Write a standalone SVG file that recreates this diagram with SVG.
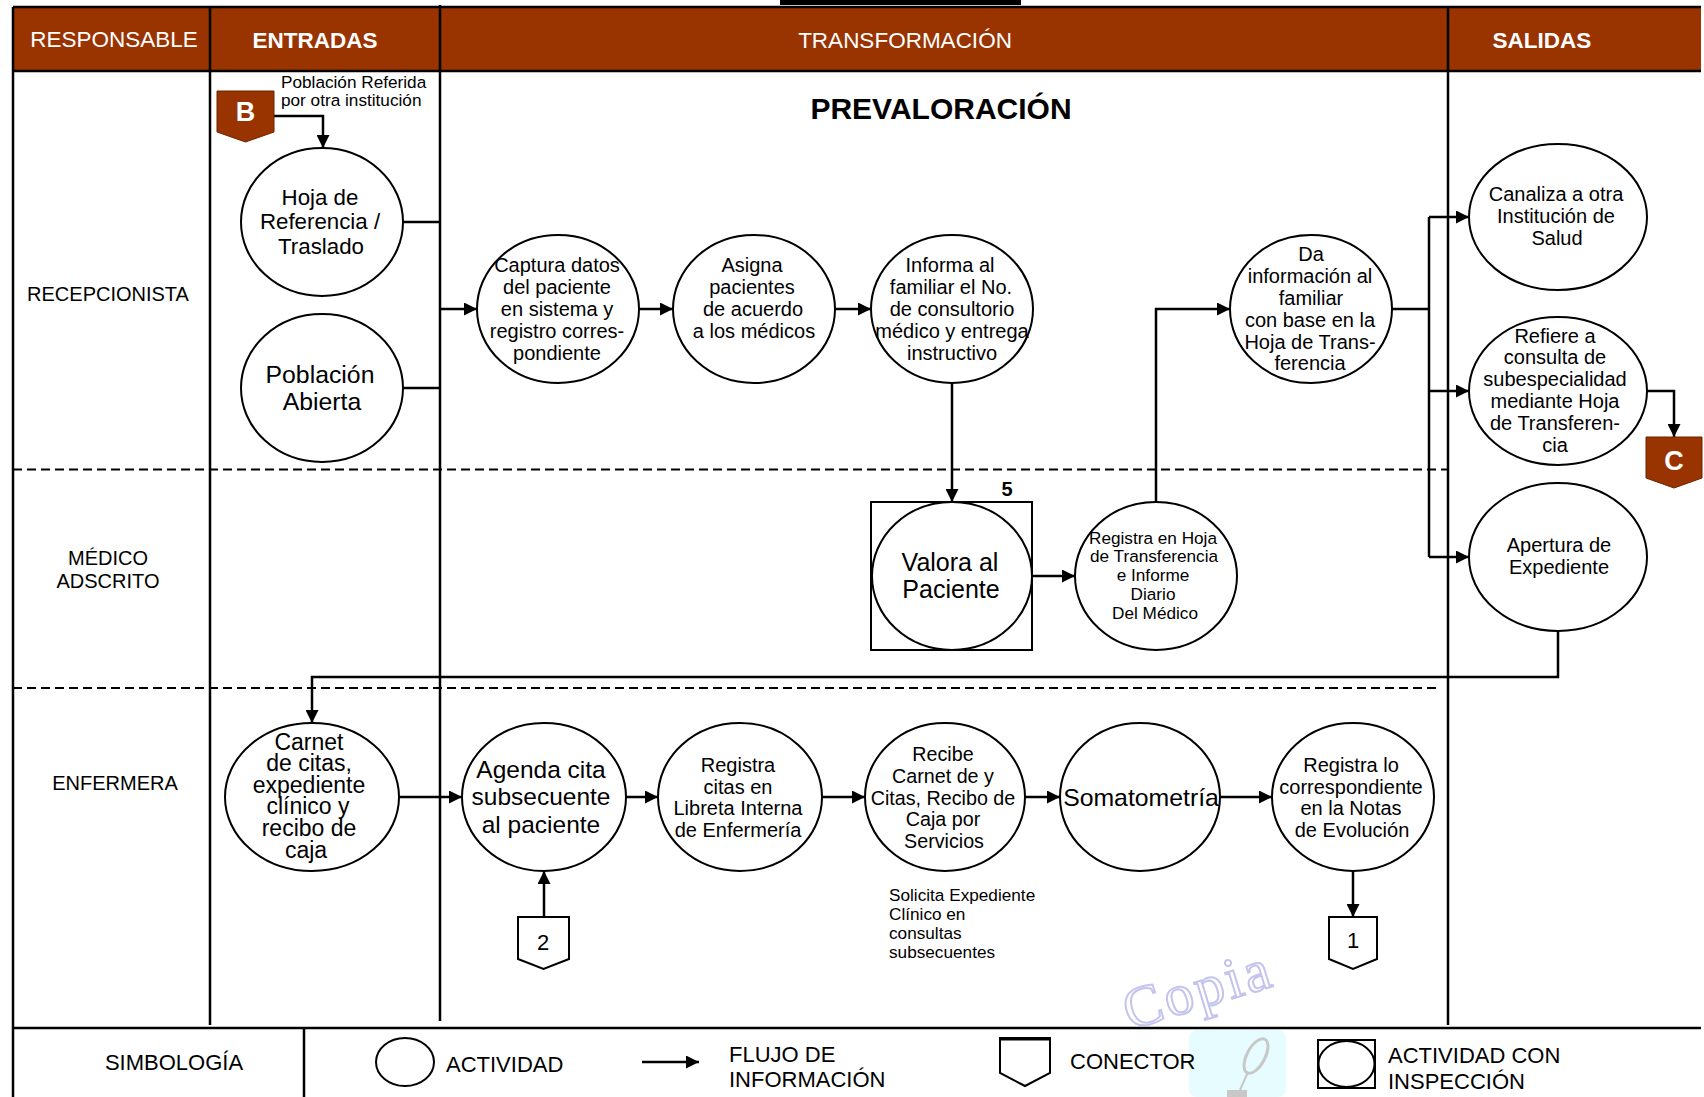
<svg xmlns="http://www.w3.org/2000/svg" width="1704" height="1097" viewBox="0 0 1704 1097">
<defs>
<marker id="ah" viewBox="0 0 14 14" refX="14" refY="7" markerWidth="14" markerHeight="13" markerUnits="userSpaceOnUse" orient="auto">
<path d="M0,0 L14,7 L0,14 Z" fill="#000"/>
</marker>
</defs>
<style>
text{font-family:"Liberation Sans",Arial,sans-serif;fill:#000}
.hd{fill:#fff;font-size:22.5px;text-anchor:middle}
.b{font-weight:bold}
.ln{font-size:20px;text-anchor:middle}
.act{fill:#fff;stroke:#000;stroke-width:2}
.c{text-anchor:middle}
.f17{font-size:17.2px}
.f20{font-size:20px}
.f23{font-size:23px}
.f25{font-size:24.8px}
.note{font-size:17.2px}
.grid{stroke:#000;stroke-width:2.5;fill:none}
.dash{stroke:#000;stroke-width:2;stroke-dasharray:9 5;fill:none}
.con{fill:#fff;stroke:#000;stroke-width:2}
.conb{fill:#993300;stroke:#6b2400;stroke-width:1}
.cl{fill:#fff;font-weight:bold;font-size:27px;text-anchor:middle}
.cn{font-size:22px;text-anchor:middle}
#connectors path{fill:none;stroke:#000;stroke-width:2.5}
.lg{font-size:22px}
.wm{font-family:"Liberation Serif",serif;font-size:58px;letter-spacing:3px;fill:none;stroke:#c4c4ee;stroke-width:2}
</style>
<rect width="1704" height="1097" fill="#fff"/>

<!-- watermark -->
<g id="watermark">
<rect x="1189" y="1030" width="97" height="67" rx="8" fill="#e6fcff"/>
<ellipse cx="1256" cy="1056" rx="19" ry="9" transform="rotate(-62 1256 1056)" fill="none" stroke="#c8c8c8" stroke-width="3"/>
<path d="M1248,1072 L1240,1090" stroke="#c8c8c8" stroke-width="2" fill="none"/>
<rect x="1227" y="1090" width="20" height="7" fill="#c8c8c8"/>
<text class="wm" x="1130" y="1030" transform="rotate(-17 1130 1030)">Copia</text>
</g>

<!-- frame & header -->
<g id="frame">
<rect x="780" y="0" width="241" height="5" fill="#000"/>
<rect x="13" y="8" width="1688" height="63" fill="#993300"/>
<line class="grid" x1="13" y1="7" x2="1701" y2="7" stroke-width="3"/>
<line class="grid" x1="13" y1="71" x2="1701" y2="71" stroke-width="3"/>
<line class="grid" x1="13" y1="7" x2="13" y2="1097"/>
<line class="grid" x1="210" y1="7" x2="210" y2="1025"/>
<line class="grid" x1="440" y1="5" x2="440" y2="1021"/>
<line class="grid" x1="1448" y1="7" x2="1448" y2="1025"/>
<line class="dash" x1="13" y1="469.5" x2="1448" y2="469.5"/>
<line class="dash" x1="13" y1="688" x2="1440" y2="688"/>
<line class="grid" x1="13" y1="1028" x2="1701" y2="1028" stroke-width="2"/>
<line class="grid" x1="304" y1="1028" x2="304" y2="1097" stroke-width="1.5"/>
<text class="hd" x="114" y="47">RESPONSABLE</text>
<text class="hd b" x="315" y="48">ENTRADAS</text>
<text class="hd" x="905" y="48">TRANSFORMACIÓN</text>
<text class="hd b" x="1542" y="48">SALIDAS</text>
<text class="ln" x="108" y="301">RECEPCIONISTA</text>
<text class="ln" x="108" y="565">MÉDICO</text>
<text class="ln" x="108" y="588">ADSCRITO</text>
<text class="ln" x="115" y="790">ENFERMERA</text>
<text x="941" y="119" font-size="30" font-weight="bold" text-anchor="middle">PREVALORACIÓN</text>
<text class="note" x="281" y="88">Población Referida</text>
<text class="note" x="281" y="106">por otra institución</text>
<text class="note" x="889" y="901">Solicita Expediente</text>
<text class="note" x="889" y="920">Clínico en</text>
<text class="note" x="889" y="939">consultas</text>
<text class="note" x="889" y="958">subsecuentes</text>
</g>

<!-- connectors -->
<g id="connectors">
<path d="M274,116 H323 V148" marker-end="url(#ah)"/>
<path d="M403,222 H440"/>
<path d="M403,388 H440"/>
<path d="M440,309 H477" marker-end="url(#ah)"/>
<path d="M639,309 H673" marker-end="url(#ah)"/>
<path d="M835,309 H871" marker-end="url(#ah)"/>
<path d="M952,383 V502" marker-end="url(#ah)"/>
<path d="M1032,576 H1075" marker-end="url(#ah)"/>
<path d="M1156,502 V309 H1230" marker-end="url(#ah)"/>
<path d="M1392,309 H1429"/>
<path d="M1429,217 V557"/>
<path d="M1429,217 H1469" marker-end="url(#ah)"/>
<path d="M1429,391 H1469" marker-end="url(#ah)"/>
<path d="M1429,557 H1469" marker-end="url(#ah)"/>
<path d="M1647,391 H1674 V437" marker-end="url(#ah)"/>
<path d="M1558,631 V677 H312 V723" marker-end="url(#ah)"/>
<path d="M399,797 H462" marker-end="url(#ah)"/>
<path d="M626,797 H658" marker-end="url(#ah)"/>
<path d="M822,797 H865" marker-end="url(#ah)"/>
<path d="M1025,797 H1060" marker-end="url(#ah)"/>
<path d="M1220,797 H1272" marker-end="url(#ah)"/>
<path d="M1353,871 V917" marker-end="url(#ah)"/>
<path d="M544,917 V871" marker-end="url(#ah)"/>
<path d="M642,1062 H699" marker-end="url(#ah)"/>
</g>

<g id="conector-B">
<path class="conb" d="M217,91 H274 V132 L245.5,142 L217,132 Z"/>
<text class="cl" x="245.5" y="121">B</text>
</g>

<g id="hoja-referencia">
<ellipse class="act" cx="322" cy="222" rx="81" ry="74"/>
<text class="c" font-size="22.3"><tspan x="320" y="205">Hoja de</tspan><tspan x="320" y="229">Referencia /</tspan><tspan x="321" y="254">Traslado</tspan></text>
</g>

<g id="poblacion-abierta">
<ellipse class="act" cx="322" cy="388" rx="81" ry="74"/>
<text class="c f25"><tspan x="320" y="383">Población</tspan><tspan x="322" y="410">Abierta</tspan></text>
</g>

<g id="captura-datos">
<ellipse class="act" cx="558" cy="309" rx="81" ry="74"/>
<text class="c f20"><tspan x="557" y="272">Captura datos</tspan><tspan x="557" y="294">del paciente</tspan><tspan x="557" y="316">en sistema y</tspan><tspan x="557" y="338">registro corres-</tspan><tspan x="557" y="360">pondiente</tspan></text>
</g>

<g id="asigna-pacientes">
<ellipse class="act" cx="754" cy="309" rx="81" ry="74"/>
<text class="c f20"><tspan x="752" y="272">Asigna</tspan><tspan x="752" y="294">pacientes</tspan><tspan x="753" y="316">de acuerdo</tspan><tspan x="754" y="338">a los médicos</tspan></text>
</g>

<g id="informa-familiar">
<ellipse class="act" cx="952" cy="309" rx="81" ry="74"/>
<text class="c f20"><tspan x="950" y="272">Informa al</tspan><tspan x="951" y="294">familiar el No.</tspan><tspan x="952" y="316">de consultorio</tspan><tspan x="952" y="338">médico y entrega</tspan><tspan x="952" y="360">instructivo</tspan></text>
</g>

<g id="valora-paciente">
<rect x="871" y="502" width="161" height="148" fill="#fff" stroke="#000" stroke-width="2"/>
<ellipse class="act" cx="952" cy="576" rx="80" ry="74"/>
<text class="c" font-size="25"><tspan x="950" y="571">Valora al</tspan><tspan x="951" y="598">Paciente</tspan></text>
<text x="1007" y="496" font-size="20" font-weight="bold" text-anchor="middle">5</text>
</g>

<g id="registra-hoja">
<ellipse class="act" cx="1156" cy="576" rx="81" ry="74"/>
<text class="c f17"><tspan x="1153" y="544">Registra en Hoja</tspan><tspan x="1154" y="562">de Transferencia</tspan><tspan x="1153" y="581">e Informe</tspan><tspan x="1153" y="600">Diario</tspan><tspan x="1155" y="619">Del Médico</tspan></text>
</g>

<g id="da-informacion">
<ellipse class="act" cx="1311" cy="309" rx="81" ry="74"/>
<text class="c f20"><tspan x="1311" y="261">Da</tspan><tspan x="1310" y="283">información al</tspan><tspan x="1311" y="305">familiar</tspan><tspan x="1310" y="327">con base en la</tspan><tspan x="1310" y="349">Hoja de Trans-</tspan><tspan x="1310" y="370">ferencia</tspan></text>
</g>

<g id="canaliza">
<ellipse class="act" cx="1558" cy="217" rx="89" ry="73"/>
<text class="c f20"><tspan x="1556" y="201">Canaliza a otra</tspan><tspan x="1556" y="223">Institución de</tspan><tspan x="1557" y="245">Salud</tspan></text>
</g>

<g id="refiere">
<ellipse class="act" cx="1558" cy="391" rx="89" ry="74"/>
<text class="c f20"><tspan x="1555" y="343">Refiere a</tspan><tspan x="1555" y="364">consulta de</tspan><tspan x="1555" y="386">subespecialidad</tspan><tspan x="1555" y="408">mediante Hoja</tspan><tspan x="1555" y="430">de Transferen-</tspan><tspan x="1555" y="452">cia</tspan></text>
</g>

<g id="conector-C">
<path class="conb" d="M1646,437 H1702 V478 L1674,488 L1646,478 Z"/>
<text class="cl" x="1674" y="470">C</text>
</g>

<g id="apertura">
<ellipse class="act" cx="1558" cy="557" rx="89" ry="74"/>
<text class="c f20"><tspan x="1559" y="552">Apertura de</tspan><tspan x="1559" y="574">Expediente</tspan></text>
</g>

<g id="carnet">
<ellipse class="act" cx="312" cy="797" rx="87" ry="74"/>
<text class="c f23"><tspan x="309" y="750">Carnet</tspan><tspan x="309" y="771">de citas,</tspan><tspan x="309" y="793">expediente</tspan><tspan x="308" y="814">clínico y</tspan><tspan x="309" y="836">recibo de</tspan><tspan x="306" y="858">caja</tspan></text>
</g>

<g id="agenda-cita">
<ellipse class="act" cx="544" cy="797" rx="82" ry="74"/>
<text class="c" font-size="24.5"><tspan x="541" y="778">Agenda cita</tspan><tspan x="541" y="805">subsecuente</tspan><tspan x="541" y="833">al paciente</tspan></text>
</g>

<g id="conector-2">
<path class="con" d="M518,917 H569 V959 L543.5,969 L518,959 Z"/>
<text class="cn" x="543" y="950">2</text>
</g>

<g id="registra-citas">
<ellipse class="act" cx="740" cy="797" rx="82" ry="74"/>
<text class="c f20"><tspan x="738" y="772">Registra</tspan><tspan x="738" y="794">citas en</tspan><tspan x="738" y="815">Libreta Interna</tspan><tspan x="738" y="837">de Enfermería</tspan></text>
</g>

<g id="recibe-carnet">
<ellipse class="act" cx="945" cy="797" rx="80" ry="74"/>
<text class="c" font-size="19.7"><tspan x="943" y="761">Recibe</tspan><tspan x="943" y="783">Carnet de y</tspan><tspan x="943" y="805">Citas, Recibo de</tspan><tspan x="943" y="826">Caja por</tspan><tspan x="944" y="848">Servicios</tspan></text>
</g>

<g id="somatometria">
<ellipse class="act" cx="1140" cy="797" rx="80" ry="74"/>
<text class="c f25" x="1141" y="806">Somatometría</text>
</g>

<g id="registra-notas">
<ellipse class="act" cx="1353" cy="797" rx="81" ry="74"/>
<text class="c f20"><tspan x="1351" y="772">Registra lo</tspan><tspan x="1351" y="794">correspondiente</tspan><tspan x="1351" y="815">en la Notas</tspan><tspan x="1352" y="837">de Evolución</tspan></text>
</g>

<g id="conector-1">
<path class="con" d="M1329,917 H1377 V959 L1353,969 L1329,959 Z"/>
<text class="cn" x="1353" y="948">1</text>
</g>

<!-- legend -->
<g id="simbologia">
<text class="lg" x="174" y="1070" text-anchor="middle">SIMBOLOGÍA</text>
<ellipse class="act" cx="405" cy="1062" rx="29" ry="24"/>
<text class="lg" x="446" y="1072">ACTIVIDAD</text>
<text class="lg" x="729" y="1062">FLUJO DE</text>
<text class="lg" x="729" y="1087">INFORMACIÓN</text>
<path class="con" d="M1000,1038 H1050 V1073 L1025,1086 L1000,1073 Z"/>
<line x1="1000" y1="1039" x2="1050" y2="1039" stroke="#000" stroke-width="3"/>
<text class="lg" x="1070" y="1069">CONECTOR</text>
<rect x="1318" y="1040" width="57" height="48" fill="#fff" stroke="#000" stroke-width="2"/>
<ellipse class="act" cx="1346.5" cy="1064" rx="28" ry="23"/>
<text class="lg" x="1388" y="1063">ACTIVIDAD CON</text>
<text class="lg" x="1388" y="1089">INSPECCIÓN</text>
</g>
</svg>
